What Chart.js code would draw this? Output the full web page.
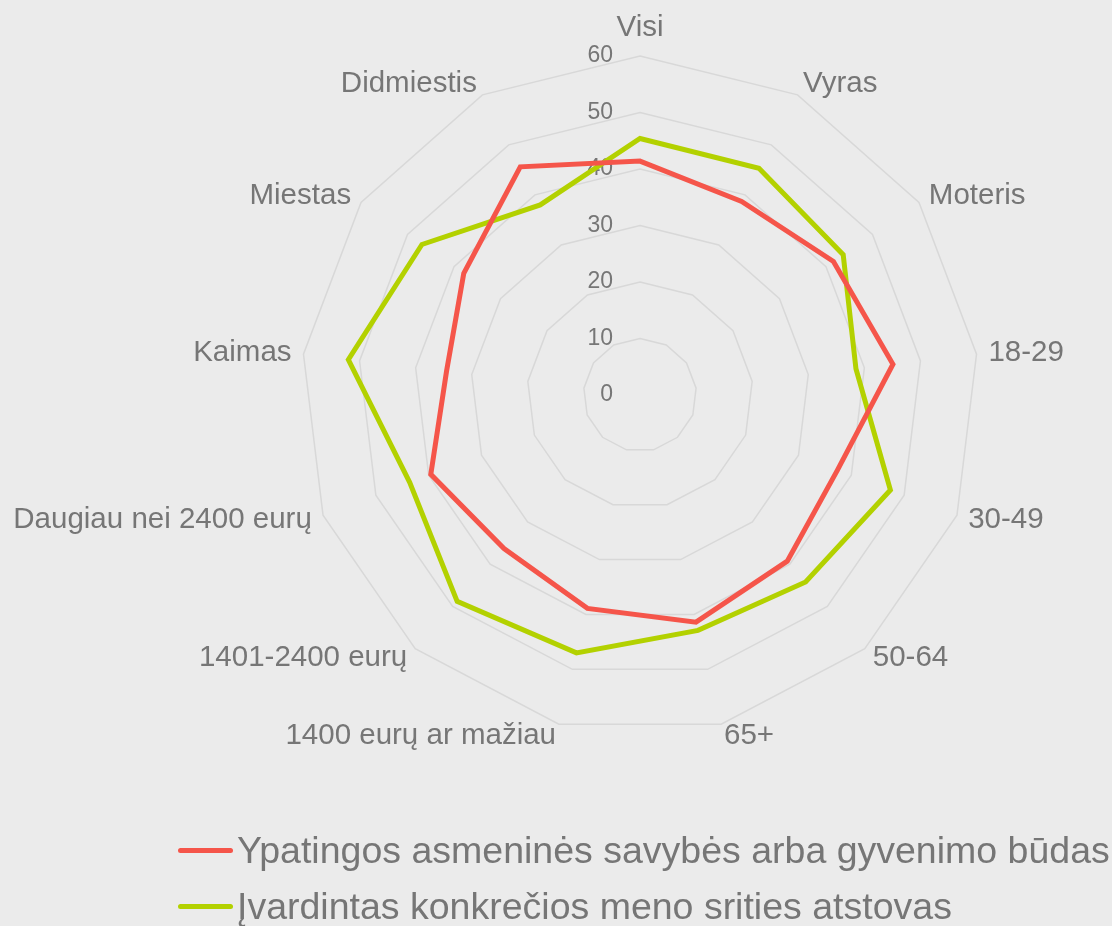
<!DOCTYPE html>
<html lang="lt">
<head>
<meta charset="utf-8">
<title>Radaro diagrama</title>
<script src="https://cdn.jsdelivr.net/npm/chart.js@4/dist/chart.umd.min.js"></script>
<style>
    html, body {
        margin: 0;
        padding: 0;
        background: #ebebeb;
        font-family: "Liberation Sans", Arial, sans-serif;
    }
    #wrap {
        position: relative;
        width: 1112px;
        height: 926px;
    }
    #legend {
        position: absolute;
        left: 178px;
        top: 822px;
        color: #767676;
        font-size: 37.5px;
        white-space: nowrap;
    }
    .row {
        height: 56px;
        line-height: 56px;
    }
    .swatch {
        display: inline-block;
        width: 55px;
        height: 5px;
        border-radius: 3px;
        margin-right: 4px;
        vertical-align: middle;
        position: relative;
        top: -3px;
    }
</style>
</head>
<body>
<div id="wrap">
    <canvas id="radar" width="1112" height="926"></canvas>
    <div id="legend"></div>
</div>
<script>
// Kategorijos (pagal laikrodžio rodyklę nuo viršaus)
const categories = ['Visi', 'Vyras', 'Moteris', '18-29', '30-49', '50-64', '65+',
    '1400 eurų ar mažiau', '1401-2400 eurų', 'Daugiau nei 2400 eurų',
    'Kaimas', 'Miestas', 'Didmiestis'];

// Reikšmės
const savybesValues = [41.4, 38.7, 41.6, 45.1, 37.4, 39.3, 41.4, 38.9, 36.3, 39.6, 34.5, 37.9, 45.6];
const atstovasValues = [45.4, 45.3, 43.7, 38.5, 47.4, 44.2, 42.9, 47.0, 48.8, 43.6, 52.0, 46.9, 38.0];

const seriesNames = ['Ypatingos asmeninės savybės arba gyvenimo būdas',
    'Įvardintas konkrečios meno srities atstovas'];

// Ašies žymės
const tickValues = [0, 10, 20, 30, 40, 50, 60];

const textColor = '#767676';
const colors = ['#f5554a', '#b3d100'];

// Ašies ir kategorijų užrašai piešiami patys
const labelPlugin = {
    id: 'labelPlugin',
    beforeDatasetsDraw(chart) {
        const ctx = chart.ctx;
        const scale = chart.scales.r;
        ctx.save();
        ctx.fillStyle = textColor;

        // skaičiai ant ašies
        ctx.font = '23px "Liberation Sans", Arial, sans-serif';
        ctx.textAlign = 'right';
        ctx.textBaseline = 'middle';
        tickValues.forEach(function(v) {
            const d = scale.getDistanceFromCenterForValue(v);
            ctx.fillText(String(v), scale.xCenter - 27, scale.yCenter - d);
        });

        // kategorijos
        ctx.font = '29.5px "Liberation Sans", Arial, sans-serif';
        const dist = scale.drawingArea + 12;
        categories.forEach(function(label, i) {
            const p = scale.getPointPosition(i, dist);
            const dx = p.x - scale.xCenter;
            if (Math.abs(dx) < 2) {
                ctx.textAlign = 'center';
                ctx.textBaseline = 'alphabetic';
                ctx.fillText(label, p.x, p.y - 8);
            } else {
                ctx.textAlign = dx > 0 ? 'left' : 'right';
                ctx.textBaseline = 'middle';
                ctx.fillText(label, p.x, p.y);
            }
        });
        ctx.restore();
    }
};

const ctx = document.getElementById('radar').getContext('2d');

new Chart(ctx, {
    type: 'radar',
    data: {
        labels: categories,
        datasets: [
            {
                label: seriesNames[0],
                data: savybesValues,
                borderColor: colors[0],
                backgroundColor: 'rgba(0,0,0,0)',
                borderWidth: 5,
                pointRadius: 0,
                fill: false
            },
            {
                label: seriesNames[1],
                data: atstovasValues,
                borderColor: colors[1],
                backgroundColor: 'rgba(0,0,0,0)',
                borderWidth: 5,
                pointRadius: 0,
                fill: false
            }
        ]
    },
    options: {
        responsive: false,
        animation: false,
        layout: {
            padding: { left: 301, right: 133, top: 56, bottom: 191 }
        },
        plugins: {
            legend: { display: false },
            tooltip: { enabled: false }
        },
        scales: {
            r: {
                min: 0,
                max: 60,
                ticks: { display: false, stepSize: 10 },
                pointLabels: { display: false },
                angleLines: { display: false },
                grid: { color: '#d8d8d8', lineWidth: 1.5 }
            }
        }
    },
    plugins: [labelPlugin]
});

// Legenda
const legend = document.getElementById('legend');
seriesNames.forEach(function(name, i) {
    const row = document.createElement('div');
    row.className = 'row';
    const sw = document.createElement('span');
    sw.className = 'swatch';
    sw.style.background = colors[i];
    row.appendChild(sw);
    row.appendChild(document.createTextNode(name));
    legend.appendChild(row);
});
</script>
</body>
</html>
